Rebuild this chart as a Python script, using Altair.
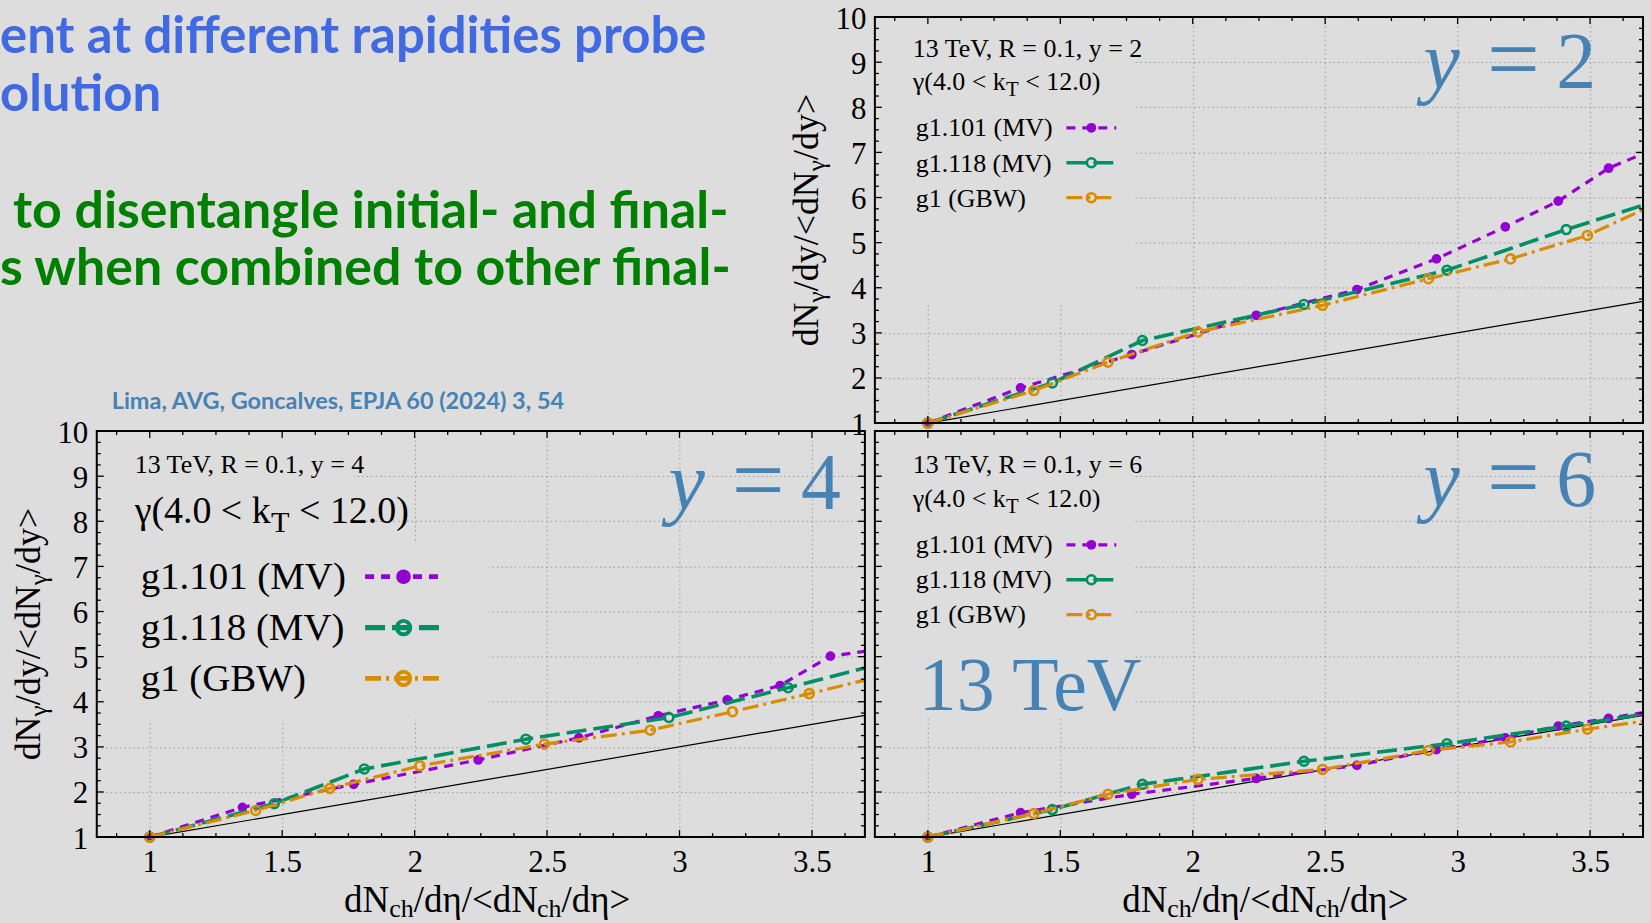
import altair as alt
import pandas as pd

# ---------------------------------------------------------------- colours / fonts
BG = "#dddddd"
PURPLE = "#9400d3"
GREEN = "#008f62"
ORANGE = "#d98c00"
SLIDE_BLUE = "#4169e1"
SLIDE_GREEN = "#008000"
STEEL = "#4682b4"
SERIF = "Liberation Serif"
SANS = "Lato"

PANEL_W, PANEL_H = 770, 407

# ---------------------------------------------------------------- data
# multiplicity bins (x) of each model; the last entry is where the curve meets the right frame
X_MV101 = [1.00, 1.35, 1.77, 2.24, 2.62, 2.92, 3.18, 3.38, 3.57, 3.70]
X_MV118 = [1.00, 1.47, 1.81, 2.42, 2.96, 3.41, 3.70]
X_GBW = [1.00, 1.40, 1.68, 2.02, 2.49, 2.89, 3.20, 3.49, 3.70]

# normalised photon yields at y = 2
Y2_MV101 = [1.00, 1.78, 2.52, 3.39, 3.96, 4.64, 5.35, 5.92, 6.65, 6.97]
Y2_MV118 = [1.00, 1.89, 2.83, 3.63, 4.39, 5.29, 5.83]
Y2_GBW = [1.00, 1.72, 2.35, 3.02, 3.61, 4.20, 4.64, 5.16, 5.73]

# y = 4
Y4_MV101 = [1.00, 1.66, 2.17, 2.71, 3.20, 3.69, 4.04, 4.36, 5.01, 5.12]
Y4_MV118 = [1.00, 1.74, 2.51, 3.17, 3.65, 4.31, 4.75]
Y4_GBW = [1.00, 1.59, 2.08, 2.58, 3.06, 3.37, 3.78, 4.18, 4.48]

# y = 6
Y6_MV101 = [1.00, 1.54, 1.95, 2.30, 2.59, 2.94, 3.20, 3.46, 3.63, 3.76]
Y6_MV118 = [1.00, 1.61, 2.17, 2.68, 3.07, 3.46, 3.72]
Y6_GBW = [1.00, 1.52, 1.95, 2.28, 2.50, 2.92, 3.11, 3.39, 3.57]

# linear-scaling reference line
REF_X = [1.0, 3.7]
REF_Y = [1.0, 3.7]

# axes
X_DOMAIN = [0.8, 3.7]
Y_DOMAIN = [1, 10]
X_MAJOR = [1.0, 1.5, 2.0, 2.5, 3.0, 3.5]
X_MINOR = [0.875, 1.125, 1.25, 1.375, 1.625, 1.75, 1.875, 2.125, 2.25, 2.375,
           2.625, 2.75, 2.875, 3.125, 3.25, 3.375, 3.625]
Y_MAJOR = [1, 2, 3, 4, 5, 6, 7, 8, 9, 10]
Y_MINOR = [v + f for v in range(1, 10) for f in (0.25, 0.5, 0.75)]

SERIES = [
    # key, label, colour, dash, line width, filled marker
    ("MV101", "g1.101 (MV)", PURPLE, [9, 7], 3.2, True),
    ("MV118", "g1.118 (MV)", GREEN, [20, 7], 3.6, False),
    ("GBW", "g1 (GBW)", ORANGE, [16, 5, 3, 5], 3.2, False),
]
SERIES_X = {"MV101": X_MV101, "MV118": X_MV118, "GBW": X_GBW}
CURVES = {
    2: {"MV101": Y2_MV101, "MV118": Y2_MV118, "GBW": Y2_GBW},
    4: {"MV101": Y4_MV101, "MV118": Y4_MV118, "GBW": Y4_GBW},
    6: {"MV101": Y6_MV101, "MV118": Y6_MV118, "GBW": Y6_GBW},
}

XS = alt.Scale(domain=X_DOMAIN, nice=False, zero=False)
YS = alt.Scale(domain=Y_DOMAIN, nice=False, zero=False)

# approximate Times advance widths (em) used to chain subscript runs
_W = {" ": .25, ".": .25, ",": .25, "(": .333, ")": .333, "<": .564, ">": .564,
      "=": .564, "/": .278, "d": .5, "N": .722, "y": .5, "k": .5, "T": .611,
      "c": .444, "h": .5, "γ": .45, "η": .5}


def text_w(s):
    return sum(.5 if ch.isdigit() else _W.get(ch, .5) for ch in s)


def one_row():
    return pd.DataFrame({"_": [0]})


def text_layer(rows, **kw):
    return alt.Chart(pd.DataFrame(rows)).mark_text(**kw).encode(
        x=alt.X("px:Q", scale=None, axis=None),
        y=alt.Y("py:Q", scale=None, axis=None),
        text="text:N",
        size=alt.Size("size:Q", scale=None, legend=None),
        color=alt.Color("color:N", scale=None, legend=None),
    )


def run(pieces, x0, y0, f_main, f_sub, shift, color="black"):
    """Horizontal run of normal / subscript pieces."""
    rows, x = [], x0
    for txt, sub in pieces:
        f = f_sub if sub else f_main
        lead = len(txt) - len(txt.lstrip())
        rows.append(dict(px=x + text_w(" " * lead) * f, py=y0 + (shift if sub else 0),
                         text=txt.lstrip(), size=f, color=color))
        x += text_w(txt) * f
    return rows


def x_title_rows(cx, base_y, F, Fs, shift):
    pieces = [("dN", False), ("ch", True), ("/dη/<dN", False), ("ch", True), ("/dη>", False)]
    total = sum(text_w(t) * (Fs if s else F) for t, s in pieces)
    return run(pieces, cx - total / 2, base_y, F, Fs, shift)


def y_title_rows(cy, base_x, F, Fs, shift):
    pieces = [("dN", False), ("γ", True), ("/dy/<dN", False), ("γ", True), ("/dy>", False)]
    total = sum(text_w(t) * (Fs if s else F) for t, s in pieces)
    y, rows = cy + total / 2, []
    for t, s in pieces:
        f = Fs if s else F
        rows.append(dict(px=base_x + (shift if s else 0), py=y, text=t, size=f, color="black"))
        y -= text_w(t) * f
    return rows


def num_axis(values, show_labels, pad, offset=0):
    return alt.Axis(values=values, format="~f", labels=show_labels, ticks=False, tickSize=0,
                    domain=False, grid=True, gridDash=[1.5, 3], gridColor="#9c9c9c",
                    gridWidth=1, labelFont=SERIF, labelFontSize=31, labelColor="black",
                    labelPadding=pad, labelOffset=offset, labelFlush=False,
                    labelOverlap=False, title=None)


def panel(rap, key_rects, show_x_labels, show_y_labels, show_y_title, lay):
    ax_x = num_axis(X_MAJOR, show_x_labels, 10)
    ax_y = num_axis(Y_MAJOR, show_y_labels, 9, 2)

    def X(field):
        return alt.X(field, type="quantitative", scale=XS, axis=ax_x)

    def Y(field):
        return alt.Y(field, type="quantitative", scale=YS, axis=ax_y)

    def XD(v):
        return alt.XDatum(v, scale=XS, axis=ax_x)

    def YD(v):
        return alt.YDatum(v, scale=YS, axis=ax_y)

    layers = []

    # opaque key area (hides the grid behind the annotations)
    kr = pd.DataFrame(key_rects, columns=["x0", "x1", "y0", "y1"])
    layers.append(alt.Chart(kr).mark_rect(fill=BG).encode(
        x=X("x0"), x2="x1:Q", y=Y("y0"), y2="y1:Q"))

    # reference line
    layers.append(alt.Chart(pd.DataFrame({"x": REF_X, "y": REF_Y})).mark_line(
        color="black", strokeWidth=1.2).encode(x=X("x"), y=Y("y")))

    # model curves
    for key, label, color, dash, width, filled in SERIES:
        df = pd.DataFrame({"x": SERIES_X[key], "y": CURVES[rap][key]})
        layers.append(alt.Chart(df).mark_line(color=color, strokeDash=dash, strokeWidth=width).encode(
            x=X("x"), y=Y("y")))
        layers.append(alt.Chart(df.iloc[:-1]).mark_point(
            shape="circle", filled=filled, color=color, opacity=1,
            size=95 if filled else 80, strokeWidth=2.6).encode(x=X("x"), y=Y("y")))

    # inward ticks on all four sides
    for vals, L in ((X_MAJOR, 7), (X_MINOR, 4)):
        df = pd.DataFrame({"v": vals})
        for edge, off in ((Y_DOMAIN[0], -L), (Y_DOMAIN[1], L)):
            layers.append(alt.Chart(df).mark_rule(color="black", strokeWidth=1.3, y2Offset=off).encode(
                x=X("v"), y=YD(edge), y2=alt.datum(edge)))
    for vals, L in ((Y_MAJOR, 7), (Y_MINOR, 4)):
        df = pd.DataFrame({"v": vals})
        for edge, off in ((X_DOMAIN[0], L), (X_DOMAIN[1], -L)):
            layers.append(alt.Chart(df).mark_rule(color="black", strokeWidth=1.3, x2Offset=off).encode(
                y=Y("v"), x=XD(edge), x2=alt.datum(edge)))

    # frame
    layers.append(alt.Chart(one_row()).mark_rect(fillOpacity=0, stroke="black", strokeWidth=2).encode(
        x=XD(X_DOMAIN[0]), x2=alt.datum(X_DOMAIN[1]),
        y=YD(Y_DOMAIN[0]), y2=alt.datum(Y_DOMAIN[1])))

    # key samples
    sx0, sx1 = lay["sample_x"]
    for (key, label, color, dash, width, filled), yy in zip(SERIES, lay["sample_y"]):
        layers.append(alt.Chart(one_row()).mark_rule(
            color=color, strokeDash=dash, strokeWidth=width * lay["k"]).encode(
            x=alt.value(sx0), x2=alt.value(sx1), y=alt.value(yy)))
        layers.append(alt.Chart(one_row()).mark_point(
            shape="circle", filled=filled, color=color, opacity=1,
            size=(95 if filled else 80) * lay["k"] ** 2, strokeWidth=2.6 * lay["k"]).encode(
            x=alt.value((sx0 + sx1) / 2), y=alt.value(yy)))

    # key texts
    serif_rows = [dict(px=lay["head_x"], py=lay["head_y"], text=f"13 TeV, R = 0.1, y = {rap}",
                       size=26, color="black")]
    gf = lay["gamma_font"]
    serif_rows += run([("γ(4.0 < k", False), ("T", True), (" < 12.0)", False)],
                      lay["head_x"], lay["gamma_y"], gf, gf * 0.8, 0.25 * gf)
    layers.append(text_layer(serif_rows, align="left", baseline="alphabetic", font=SERIF))

    entry_rows = [dict(px=lay["entry_x"], py=yy, text=label, size=lay["entry_font"], color="black")
                  for (key, label, *_), yy in zip(SERIES, lay["entry_y"])]
    layers.append(text_layer(entry_rows, align="left", baseline="middle", font=SERIF))

    # big rapidity label
    bx, by = lay["big_x"], lay["big_y"]
    layers.append(text_layer([dict(px=bx, py=by, text="y", size=82, color=STEEL)],
                             align="left", baseline="alphabetic", font=SERIF, fontStyle="italic"))
    layers.append(text_layer([dict(px=bx + 90, py=by + 2, text="=", size=94, color=STEEL),
                              dict(px=bx + 153, py=by, text=str(rap), size=80, color=STEEL)],
                             align="center", baseline="alphabetic", font=SERIF))
    if rap == 6:
        layers.append(text_layer([dict(px=44, py=280, text="13 TeV", size=76, color=STEEL)],
                                 align="left", baseline="alphabetic", font=SERIF))

    # axis titles
    if show_y_title:
        layers.append(text_layer(y_title_rows(PANEL_H / 2, -57, 36, 25, 7),
                                 align="left", baseline="alphabetic", font=SERIF, angle=270))
    if show_x_labels:
        layers.append(text_layer(x_title_rows(391, PANEL_H + 75, 37, 26, 5),
                                 align="left", baseline="alphabetic", font=SERIF))

    return alt.layer(*layers).properties(width=PANEL_W, height=PANEL_H)


SMALL_KEY = dict(k=1.0, head_x=38, head_y=40, gamma_y=73, gamma_font=26,
                 entry_x=41, entry_y=[111, 147, 182], entry_font=26,
                 sample_x=(192, 242), sample_y=[111, 146, 181], big_x=550, big_y=71)
BIG_KEY = dict(k=1.5, head_x=38, head_y=42, gamma_y=92, gamma_font=38,
               entry_x=44, entry_y=[146, 197, 249], entry_font=39,
               sample_x=(269, 346), sample_y=[146, 197, 248], big_x=573, big_y=78)

p_y2 = panel(2, [(0.8, 1.777, 3.65, 10)], False, True, True, SMALL_KEY)
p_y4 = panel(4, [(0.8, 1.77, 7.5, 10), (0.8, 2.28, 3.6, 7.5)], True, True, True, BIG_KEY)
p_y6 = panel(6, [(0.8, 1.774, 3.65, 10)], True, False, False,
             dict(SMALL_KEY, head_y=42, gamma_y=76, entry_y=[114, 149, 184],
                  sample_y=[114, 149, 184], big_y=75))

# slide text block (upper left)
slide_layers = [
    text_layer([dict(px=-97, py=36, text="ent at different rapidities probe", size=51, color=SLIDE_BLUE),
                dict(px=-97, py=94, text="olution", size=51, color=SLIDE_BLUE),
                dict(px=-84, py=211, text="to disentangle initial- and final-", size=52, color=SLIDE_GREEN),
                dict(px=-97, py=269, text="s when combined to other final-", size=52, color=SLIDE_GREEN)],
               align="left", baseline="alphabetic", font=SANS, fontWeight="bold"),
    text_layer([dict(px=15, py=393, text="Lima, AVG, Goncalves, EPJA 60 (2024) 3, 54", size=23.5, color=STEEL)],
               align="left", baseline="alphabetic", font=SANS, fontWeight="bold"),
    # invisible rule spanning the page, fixing the drawing's outer extent
    alt.Chart(one_row()).mark_rule(strokeOpacity=0, strokeWidth=1).encode(
        x=alt.value(-97), x2=alt.value(1651 - 97), y=alt.value(-16), y2=alt.value(923 - 16)),
]
slide = alt.layer(*slide_layers).properties(width=PANEL_W, height=PANEL_H)

chart = (
    alt.concat(slide, p_y2, p_y4, p_y6, columns=2, spacing={"row": 8, "column": 10},
               bounds="flush", padding=0)
    .configure(background=BG)
    .configure_view(stroke=None)
    .configure_axis(labelFont=SERIF, labelFontSize=31, labelColor="black")
)

chart.save("out.html", embed_options={"renderer": "svg", "actions": False})
